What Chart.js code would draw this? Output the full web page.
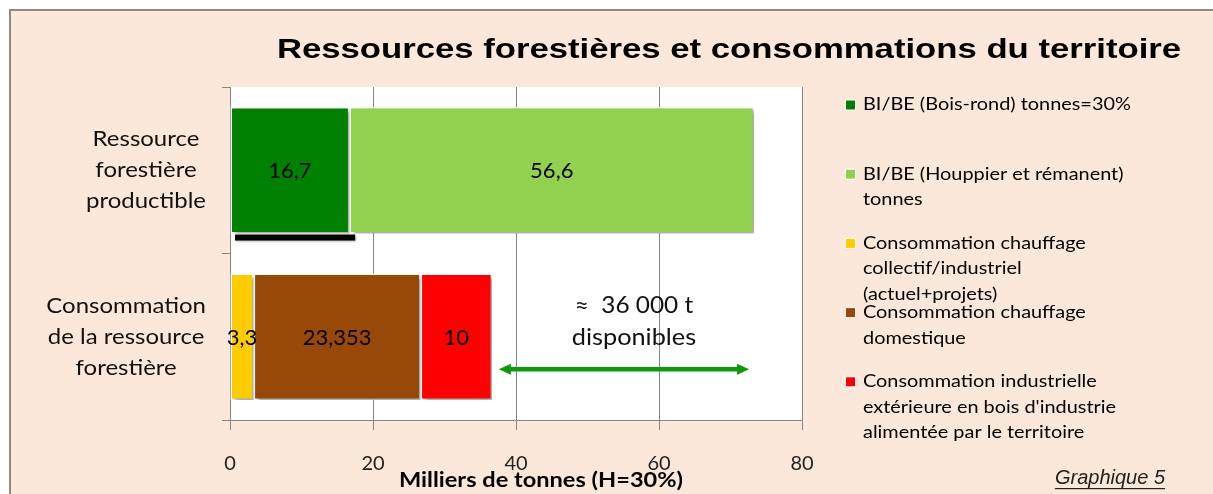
<!DOCTYPE html>
<html>
<head>
<meta charset="utf-8">
<style>
html, body { margin: 0; padding: 0; background: #fff; }
canvas { display: block; }
</style>
</head>
<body>
<canvas id="chartRes" width="1213" height="494"></canvas>
<script src="https://cdn.jsdelivr.net/npm/chart.js@4.4.1/dist/chart.umd.min.js"></script>
<script>
// categories (y axis), one line per array entry
const categories = [
    ['Ressource', 'forestière', 'productible'],
    ['Consommation', 'de la ressource', 'forestière']
];
// series values, thousands of tonnes
const boisRond = [16.7, null];
const houppier = [56.6, null];
const chauffageCollectif = [null, 3.3];
const chauffageDomestique = [null, 23.353];
const industrielle = [null, 10];
const seriesNames = [
    ['BI/BE (Bois-rond) tonnes=30%'],
    ['BI/BE (Houppier et rémanent)', 'tonnes'],
    ['Consommation chauffage', 'collectif/industriel', '(actuel+projets)'],
    ['Consommation chauffage', 'domestique'],
    ['Consommation industrielle', 'extérieure en bois d\'industrie', 'alimentée par le territoire']
];
const seriesColors = ['#008000', '#92D050', '#FFCC00', '#984807', '#FF0000'];
const xTicks = [0, 20, 40, 60, 80];

const titleText = 'Ressources forestières et consommations du territoire';
const axisTitle = 'Milliers de tonnes (H=30%)';
const noteText = 'Graphique 5';
const availText = ['\u2248  36 000 t', 'disponibles'];
const availRange = [37.6, 72.6];   // arrow span on the value axis
const availRow = 1.195;            // arrow position on the category axis
const blackBar = [0.7, 17.5];      // dark stroke under the first bar

const allSeries = [boisRond, houppier, chauffageCollectif, chauffageDomestique, industrielle];
const fmt = v => String(v).replace('.', ',');

const datasets = allSeries.map((d, i) => ({
    label: seriesNames[i].join(' '),
    data: d,
    backgroundColor: seriesColors[i],
    borderColor: '#ffffff',
    borderWidth: 1.5,
    borderSkipped: false,
    barPercentage: 0.76,
    categoryPercentage: 1
}));

// centred text, stretched horizontally (the original is a widened bitmap)
function wideText(ctx, text, x, y, sx) {
    ctx.save();
    ctx.translate(x, y);
    ctx.scale(sx, 1);
    ctx.fillText(text, 0, 0);
    ctx.restore();
}

const decorPlugin = {
    id: 'decor',
    beforeDraw(chart) {
        const ctx = chart.ctx, a = chart.chartArea;
        ctx.save();
        ctx.fillStyle = '#ffffff';
        ctx.fillRect(0, 0, chart.width, chart.height);
        ctx.fillStyle = '#FCE8DA';
        ctx.fillRect(10, 10, chart.width, chart.height);
        ctx.strokeStyle = '#8a8a8a';
        ctx.lineWidth = 2;
        ctx.beginPath();
        ctx.moveTo(10, chart.height); ctx.lineTo(10, 10); ctx.lineTo(chart.width, 10);
        ctx.stroke();
        ctx.fillStyle = '#ffffff';
        ctx.fillRect(a.left, a.top, a.right - a.left, a.bottom - a.top);
        ctx.restore();
    },
    beforeDatasetsDraw(chart) {
        const ctx = chart.ctx;
        ctx.save();
        ctx.shadowColor = 'rgba(0,0,0,0.35)';
        ctx.shadowBlur = 4;
        ctx.shadowOffsetX = 3;
        ctx.shadowOffsetY = 3;
    },
    afterDatasetsDraw(chart) {
        const ctx = chart.ctx;
        ctx.restore();
        const xs = chart.scales.x, ys = chart.scales.y;

        // value labels inside the bars
        ctx.save();
        ctx.font = '22px Lato';
        ctx.fillStyle = '#000';
        ctx.textAlign = 'center';
        ctx.textBaseline = 'middle';
        chart.data.datasets.forEach((ds, i) => {
            chart.getDatasetMeta(i).data.forEach((bar, j) => {
                const v = ds.data[j];
                if (v == null) return;
                ctx.fillText(fmt(v), (bar.x + bar.base) / 2, bar.y + 1);
            });
        });

        // dark stroke under the first bar
        const firstBar = chart.getDatasetMeta(0).data[0];
        const by = firstBar.y + firstBar.height / 2;
        ctx.shadowColor = 'rgba(0,0,0,0.3)';
        ctx.shadowBlur = 2;
        ctx.shadowOffsetX = 1;
        ctx.shadowOffsetY = 1;
        ctx.fillStyle = '#000';
        const x0 = xs.getPixelForValue(blackBar[0]), x1 = xs.getPixelForValue(blackBar[1]);
        ctx.fillRect(x0, by + 1, x1 - x0, 6);
        ctx.restore();

        // availability arrow
        ctx.save();
        const ax0 = xs.getPixelForValue(availRange[0]), ax1 = xs.getPixelForValue(availRange[1]);
        const ay = ys.getPixelForValue(availRow);
        ctx.strokeStyle = '#0A9A0A';
        ctx.fillStyle = '#0A9A0A';
        ctx.lineWidth = 4.5;
        ctx.beginPath();
        ctx.moveTo(ax0 + 6, ay); ctx.lineTo(ax1 - 6, ay);
        ctx.stroke();
        ctx.beginPath();
        ctx.moveTo(ax0, ay); ctx.lineTo(ax0 + 12, ay - 5.5); ctx.lineTo(ax0 + 12, ay + 5.5); ctx.closePath();
        ctx.moveTo(ax1, ay); ctx.lineTo(ax1 - 12, ay - 5.5); ctx.lineTo(ax1 - 12, ay + 5.5); ctx.closePath();
        ctx.fill();
        ctx.font = '23px Lato';
        ctx.fillStyle = '#111';
        ctx.textAlign = 'center';
        ctx.textBaseline = 'middle';
        const tx = (ax0 + ax1) / 2 + 10;
        wideText(ctx, availText[0], tx, ay - 64, 1.06);
        wideText(ctx, availText[1], tx, ay - 32, 1.1);
        ctx.restore();
    },
    afterDraw(chart) {
        const ctx = chart.ctx, a = chart.chartArea;
        const ys = chart.scales.y;
        ctx.save();
        ctx.textBaseline = 'middle';

        // category labels, each block centred on itself and right-aligned
        ctx.font = '22px Lato';
        ctx.fillStyle = '#111';
        ctx.textAlign = 'center';
        const sy = 1.09;
        categories.forEach((lines, i) => {
            const yc = ys.getPixelForValue(i);
            const widest = Math.max(...lines.map(l => ctx.measureText(l).width)) * sy;
            const cx = a.left - 24 - widest / 2;
            lines.forEach((l, k) => wideText(ctx, l, cx, yc + (k - (lines.length - 1) / 2) * 31, sy));
        });

        // title
        ctx.font = 'bold 28px "Liberation Sans"';
        ctx.fillStyle = '#000';
        wideText(ctx, titleText, 729, 50, 1.239);

        // axis title
        ctx.font = 'bold 20px Lato';
        wideText(ctx, axisTitle, 541, 481, 1.18);

        // legend
        ctx.textAlign = 'left';
        ctx.font = '17px Lato';
        seriesNames.forEach((lines, i) => {
            const iy = 105 + i * 69.2;
            ctx.fillStyle = '#ffffff';
            ctx.fillRect(845, iy - 5.5, 11, 11);
            ctx.fillStyle = seriesColors[i];
            ctx.fillRect(846, iy - 4.5, 9, 9);
            ctx.fillStyle = '#000';
            lines.forEach((l, k) => wideText(ctx, l, 863, iy + k * 25.5, 1.17));
        });

        // note
        ctx.font = 'italic 20px "Liberation Sans"';
        ctx.fillStyle = '#222';
        ctx.textAlign = 'right';
        ctx.fillText(noteText, 1165, 478);
        const w = ctx.measureText(noteText).width;
        ctx.fillRect(1165 - w, 488, w, 1.2);
        ctx.restore();
    }
};

new Chart(document.getElementById('chartRes'), {
    type: 'bar',
    data: { labels: categories.map(c => c.join(' ')), datasets: datasets },
    options: {
        indexAxis: 'y',
        responsive: false,
        animation: false,
        layout: { padding: { left: 0, right: 411, top: 87, bottom: 0 } },
        plugins: {
            legend: { display: false },
            tooltip: { enabled: false },
            title: { display: false }
        },
        scales: {
            x: {
                stacked: true,
                min: 0,
                max: 80,
                afterBuildTicks: s => { s.ticks = xTicks.map(v => ({ value: v })); },
                afterFit: s => { s.height = 74; },
                grid: { color: '#868686', tickColor: '#868686', tickLength: 10 },
                border: { color: '#868686' },
                ticks: { padding: 22, color: '#222', font: { family: 'Lato', size: 20 } }
            },
            y: {
                stacked: true,
                afterFit: s => { s.width = 230; },
                grid: { offset: true, drawOnChartArea: false, color: '#868686', tickLength: 8 },
                border: { color: '#868686' },
                ticks: { display: false }
            }
        }
    },
    plugins: [decorPlugin]
});
</script>
</body>
</html>
